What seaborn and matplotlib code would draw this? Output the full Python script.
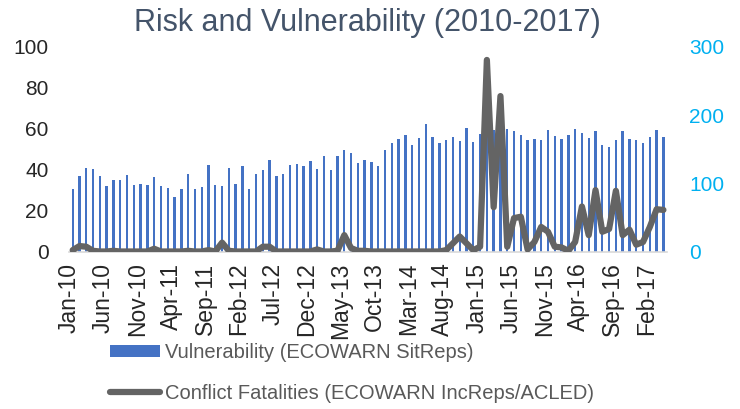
import numpy as np
import pandas as pd
import matplotlib
matplotlib.use("Agg")
import matplotlib.pyplot as plt
import seaborn as sns
from matplotlib.patches import Patch
from matplotlib.lines import Line2D

# ---- data ----
month_names = ["Jan", "Feb", "Mar", "Apr", "May", "Jun", "Jul", "Aug", "Sep", "Oct", "Nov", "Dec"]
months = [f"{m}-{y % 100:02d}" for y in range(2010, 2018) for m in month_names][:88]

vulnerability = [
    30.4, 37.1, 40.7, 40.2, 36.8, 32.2, 35.1, 34.8, 37.3, 32.5, 33.2, 32.5,
    36.4, 31.9, 31.2, 26.7, 30.6, 37.7, 30.4, 31.5, 42.3, 32.5, 32.2, 40.7,
    33.2, 41.7, 30.6, 37.7, 39.7, 44.9, 37.1, 38.0, 42.3, 42.9, 41.7, 44.1,
    40.3, 46.9, 40.0, 46.9, 49.8, 48.0, 43.1, 44.6, 43.6, 41.7, 49.5, 53.1,
    55.0, 57.0, 52.1, 55.4, 62.5, 56.0, 53.1, 54.4, 56.0, 54.0, 60.2, 53.4,
    57.3, 58.0, 59.2, 58.0, 59.9, 58.7, 56.8, 54.5, 55.0, 54.5, 59.4, 56.5,
    54.9, 57.0, 59.7, 58.1, 55.5, 58.8, 52.1, 50.9, 54.5, 58.8, 54.9, 54.5,
    52.9, 56.0, 59.3, 56.0,
]

fatalities = [
    2, 8, 7, 1, 0, 0, 1, 0, 0, 0, 0, 0,
    4, 0, 0, 0, 0, 1, 0, 0, 2, 0, 13, 1,
    0, 0, 0, 0, 7, 7, 0, 0, 0, 0, 0, 0,
    3, 0, 0, 1, 24, 5, 1, 1, 0, 0, 0, 0,
    0, 0, 0, 0, 0, 0, 0, 2, 12, 22, 12, 2,
    7, 281, 65, 228, 7, 49, 51, 3, 14, 36, 29, 7,
    6, 1, 14, 66, 24, 90, 29, 33, 89, 24, 32, 10,
    14, 36, 62, 61,
]

left_ticks = [0, 20, 40, 60, 80, 100]
right_ticks = [0, 100, 200, 300]

title = "Risk and Vulnerability (2010-2017)"
bar_label = "Vulnerability (ECOWARN SitReps)"
line_label = "Conflict Fatalities (ECOWARN IncReps/ACLED)"

# ---- style ----
sns.set_style("white")
plt.rcParams["font.family"] = ["Liberation Sans", "DejaVu Sans"]

BAR_C = "#4472C4"
LINE_C = "#646464"
AX2_C = "#00B0F0"

df = pd.DataFrame({"pos": np.arange(len(months)), "month": months,
                   "vul": vulnerability, "fat": fatalities})

fig = plt.figure(figsize=(7.4, 4.09), dpi=100)
ax = fig.add_axes([69.3 / 740, 157.5 / 409, 597.5 / 740, 204.5 / 409])

sns.barplot(data=df, x="pos", y="vul", ax=ax, color=BAR_C, saturation=1,
            width=0.35, native_scale=True, edgecolor="none")
ax2 = ax.twinx()
sns.lineplot(data=df, x="pos", y="fat", ax=ax2, color=LINE_C, lw=4.5,
             solid_joinstyle="round", solid_capstyle="round")

ax.set_xlim(-0.5, len(months) - 0.5)
ax.set_ylim(0, 100)
ax2.set_ylim(0, 300)

tick_idx = list(range(0, len(months), 5))
ax.set_xticks([i - 0.5 for i in tick_idx])
ax.set_xticklabels([months[i] for i in tick_idx], rotation=90, fontsize=16.5)
ax.set_yticks(left_ticks)
ax.set_yticklabels([str(t) for t in left_ticks], fontsize=15)
ax2.set_yticks(right_ticks)
ax2.set_yticklabels([str(t) for t in right_ticks], fontsize=15, color=AX2_C)

ax.tick_params(axis="x", length=5, width=1, color="#D9D9D9", pad=3)
ax.tick_params(axis="y", length=0, pad=15)
ax2.tick_params(axis="y", length=0, pad=16)

for a in (ax, ax2):
    a.set_xlabel("")
    a.set_ylabel("")
    for s in ("top", "left", "right", "bottom"):
        a.spines[s].set_visible(False)
ax.spines["bottom"].set_visible(True)
ax.spines["bottom"].set_color("#D9D9D9")
ax.spines["bottom"].set_linewidth(1.2)
ax.grid(False)
ax2.grid(False)

fig.text(0.497, 1 - 23 / 409, title, ha="center", va="center",
         fontsize=22, color="#44546A")

handles = [Patch(facecolor=BAR_C, edgecolor="none"),
           Line2D([], [], color=LINE_C, lw=4.5, solid_capstyle="round")]
fig.legend(handles, [bar_label, line_label], loc="upper left",
           bbox_to_anchor=(110 / 740, 1 - 343 / 409), frameon=False,
           fontsize=14.5, labelcolor="#595959", handlelength=2.5,
           handleheight=0.55, handletextpad=0.25, labelspacing=1.08,
           borderaxespad=0, borderpad=0)

fig.savefig("out.png", dpi=100)
